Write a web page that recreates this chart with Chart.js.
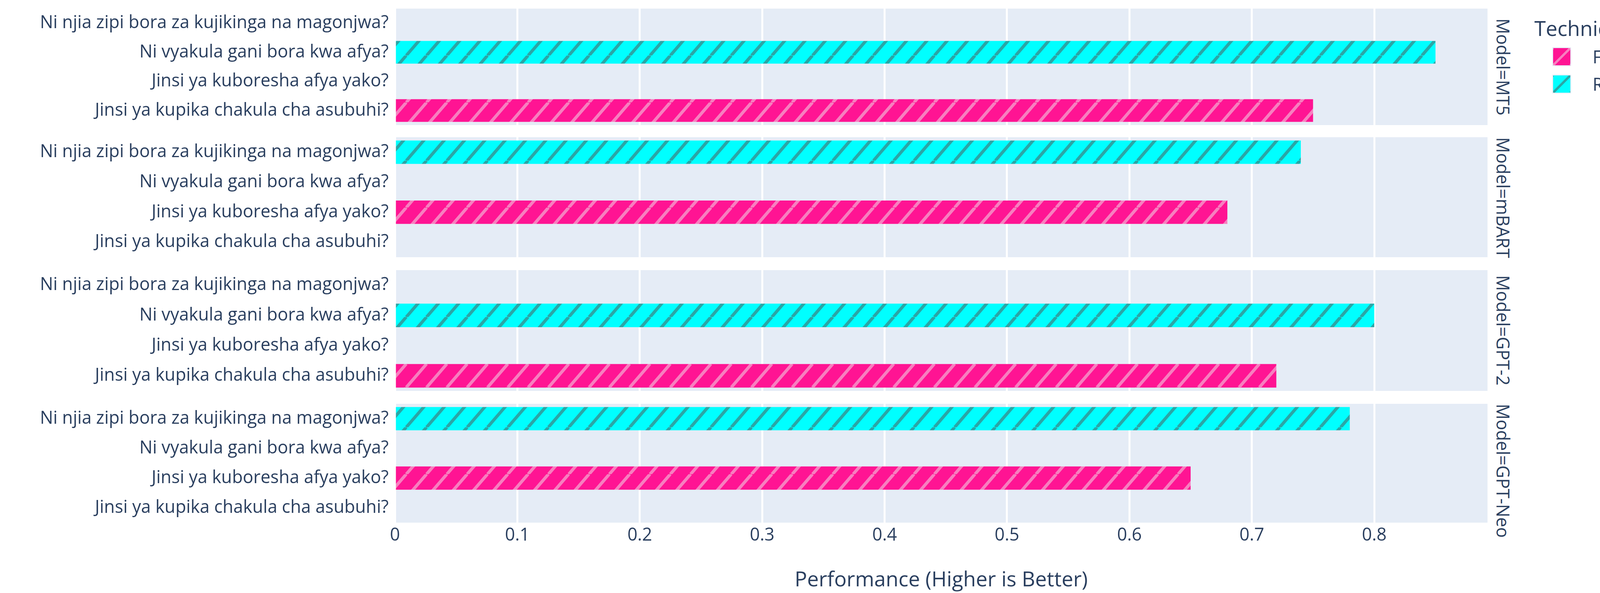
<!DOCTYPE html>
<html><head><meta charset="utf-8">
<script src="https://cdn.jsdelivr.net/npm/chart.js@4"></script>
<style>
body{margin:0;background:#fff;width:4332px;height:1517px;overflow:hidden;font-family:"Open Sans",sans-serif;color:#2a3f5f}
.p{position:absolute}
canvas{display:block}
</style></head><body>
<script>
const questions=["Ni njia zipi bora za kujikinga na magonjwa?","Ni vyakula gani bora kwa afya?","Jinsi ya kuboresha afya yako?","Jinsi ya kupika chakula cha asubuhi?"];
const models=["MT5","mBART","GPT-2","GPT-Neo"];
const fineTuned={"MT5":[null,null,null,0.75],"mBART":[null,null,0.68,null],"GPT-2":[null,null,null,0.72],"GPT-Neo":[null,null,0.65,null]};
const rag={"MT5":[null,0.85,null,null],"mBART":[0.74,null,null,null],"GPT-2":[null,0.80,null,null],"GPT-Neo":[0.78,null,null,null]};
const xTicks=[0,0.1,0.2,0.3,0.4,0.5,0.6,0.7,0.8];
const techniques=["Fine-tuned","RAG"];

const FONT='"Open Sans", sans-serif', COL='#2a3f5f';
function pattern(bg,fg,w,h,lw){const c=document.createElement('canvas');c.width=w;c.height=h;const g=c.getContext('2d');
 g.fillStyle=bg;g.fillRect(0,0,w,h);g.strokeStyle=fg;g.lineWidth=lw;g.beginPath();
 for(const dx of [-w,0,w]){g.moveTo(dx,h);g.lineTo(dx+w,0);}g.stroke();
 return g.createPattern(c,'repeat');}
const pats=[pattern('#ff1493','#f77fbf',52,60,8),pattern('#00ffff','#2aa6a6',52,60,8)];
const legPats=[pattern('#ff1493','#f77fbf',44,44,6),pattern('#00ffff','#2aa6a6',44,44,6)];

const LEFT=1011, RIGHT=3808, XMAX=0.8925;
const panels=[[22,320],[351,658],[691,1000],[1033,1337]];
const BOTTOM=180;
const bgPlugin={id:'bg',beforeDraw(c){const a=c.chartArea,g=c.ctx;g.save();g.fillStyle='#e5ecf6';g.fillRect(a.left,a.top,a.right-a.left,a.bottom-a.top);g.restore();}};

models.forEach((m,i)=>{
 const [t,b]=panels[i]; const last=i===models.length-1;
 const h=(b-t)+(last?BOTTOM:0);
 const d=document.createElement('div');d.className='p';d.style.left='0px';d.style.top=t+'px';d.style.width=RIGHT+'px';d.style.height=h+'px';
 const cv=document.createElement('canvas');d.appendChild(cv);document.body.appendChild(d);
 new Chart(cv,{type:'bar',plugins:[bgPlugin],
  data:{labels:questions,datasets:[
   {label:techniques[0],data:fineTuned[m],backgroundColor:pats[0],grouped:false,categoryPercentage:0.78,barPercentage:1,borderWidth:0},
   {label:techniques[1],data:rag[m],backgroundColor:pats[1],grouped:false,categoryPercentage:0.78,barPercentage:1,borderWidth:0}]},
  options:{indexAxis:'y',responsive:true,maintainAspectRatio:false,animation:false,devicePixelRatio:1,
   layout:{padding:0},
   plugins:{legend:{display:false},tooltip:{enabled:false}},
   scales:{
    y:{grid:{display:false},border:{display:false},
     ticks:{color:COL,font:{family:FONT,size:45},padding:8},
     afterFit(s){s.width=LEFT;s.paddingTop=0;s.paddingBottom=0;}},
    x:{min:0,max:XMAX,afterBuildTicks(s){s.ticks=xTicks.map(v=>({value:v}));},
     grid:{color:'#ffffff',lineWidth:5,drawTicks:false},border:{display:false},
     ticks:{display:last,color:COL,font:{family:FONT,size:45},padding:6,callback:v=>String(+v.toFixed(1))},
     title:{display:last,text:'Performance (Higher is Better)',color:COL,font:{family:FONT,size:53},padding:{top:36,bottom:0}},
     afterFit(s){s.height=last?BOTTOM:0;s.paddingLeft=0;s.paddingRight=0;}}
   }}});
 const lab=document.createElement('div');lab.className='p';lab.textContent='Model='+m;
 lab.style.cssText+=`left:${RIGHT+10}px;top:${t}px;height:${b-t}px;width:60px;writing-mode:vertical-rl;text-align:center;font-size:45px;line-height:60px;white-space:nowrap;`;
 document.body.appendChild(lab);
});
// legend
const tt=document.createElement('div');tt.className='p';tt.textContent='Technique';
tt.style.cssText+='left:3928px;top:36px;font-size:53px;line-height:72px;white-space:nowrap;';document.body.appendChild(tt);
techniques.forEach((tq,k)=>{const y=[123,193][k];
 const c=document.createElement('canvas');c.width=44;c.height=44;c.className='p';
 c.style.cssText+=`left:3976px;top:${y}px;outline:2px solid #e5ecf6;`;
 const g=c.getContext('2d');g.fillStyle=legPats[k];g.fillRect(0,0,44,44);document.body.appendChild(c);
 const s=document.createElement('div');s.className='p';s.textContent=tq;
 s.style.cssText+=`left:4077px;top:${y-8}px;font-size:45px;line-height:60px;white-space:nowrap;`;document.body.appendChild(s);});
</script></body></html>
